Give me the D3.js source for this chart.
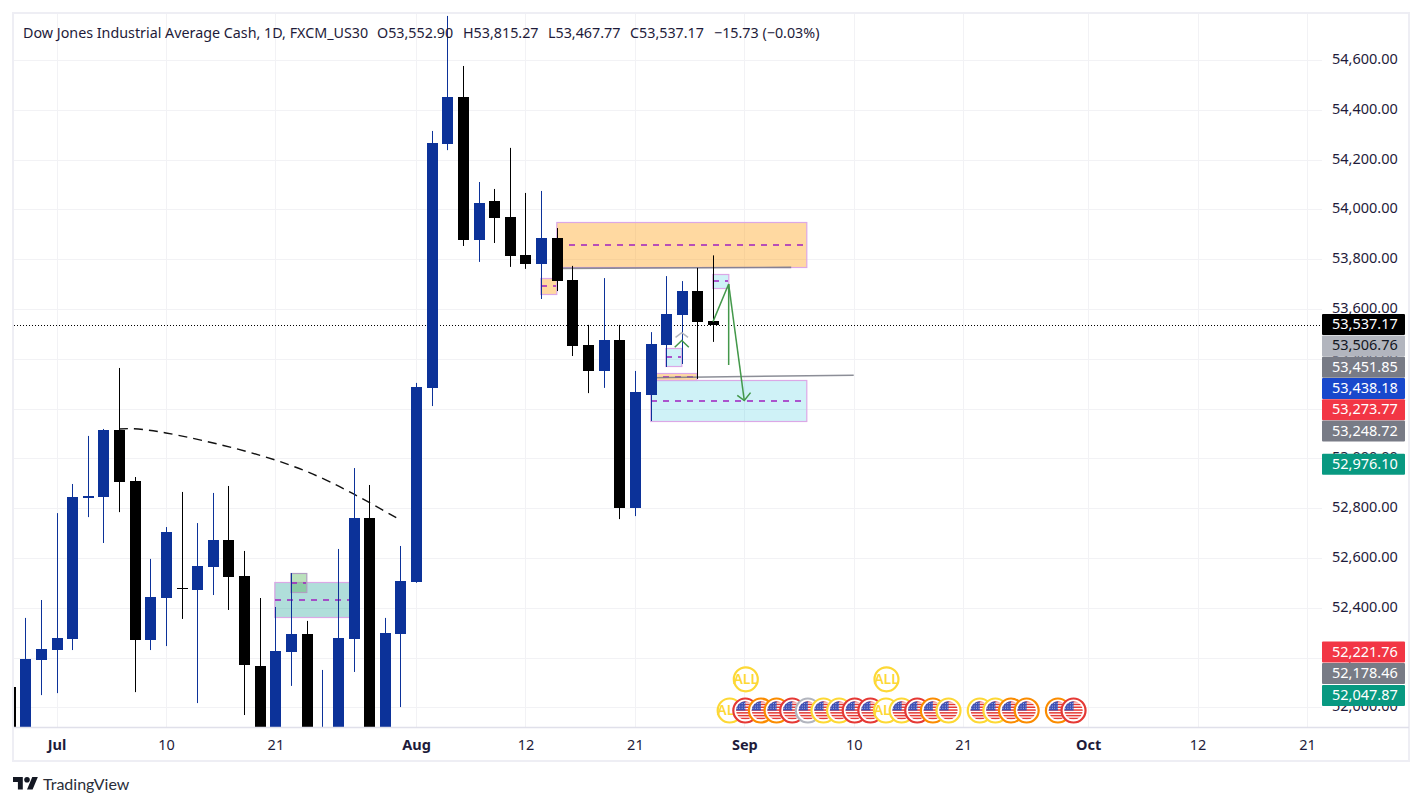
<!DOCTYPE html>
<html><head><meta charset="utf-8">
<script src="https://cdn.jsdelivr.net/npm/d3@7"></script>
<style>
html,body{margin:0;padding:0;background:#fff}
svg{display:block}
text{font-family:"Noto Sans",sans-serif;font-size:14.3px}
</style></head><body>
<svg id="c" width="1422" height="806"></svg>
<script>
const firstBar=-1;
const opens=[52081,51800,52190,52230,52274,52841,52845,53114,52909,52270,52439,52479,52471,52564,52672,52527,52166,51800,52222,52294,51700,51800,52274,52760,51850,52294,52503,53283,54263,54451,53877,54034,53969,53817,53781,53885,53716,53455,53351,53475,52801,53254,53455,53576,53672,53552.9];
const highs=[52150,52359,52431,52780,52897,53090,53118,53363,52925,52596,52724,52865,52740,52861,52889,52628,52439,52403,52539,52347,52150,52636,52961,52893,52359,52648,53303,54315,54777,54576,54110,54082,54247,54066,54074,53925,53773,53536,53724,53536,53351,53507,53732,53712,53765,53815.27];
const lows=[51800,51700,52049,52057,52230,52764,52660,52784,52061,52230,52246,52355,52017,52451,52391,51969,51700,51700,52086,51700,51650,51700,52142,51750,51800,52001,52500,53210,54238,53853,53789,53865,53769,53761,53640,53672,53411,53262,53283,52756,52768,53150,53367,53379,53319,53467.77];
const closes=[51900,52194,52234,52278,52845,52849,53114,52905,52270,52443,52704,52475,52568,52672,52523,52170,51750,52226,52294,51800,51880,52278,52760,51850,52298,52507,53287,54267,54451,53877,54026,53965,53813,53781,53885,53712,53451,53351,53475,52801,53266,53459,53580,53672,53548,53537.17];
const priceTicks=[52000,52200,52400,52600,52800,53000,53200,53400,53600,53800,54000,54200,54400,54600];
const timeBars=[2,9,16,25,32,39,46,53,60,68,75,82];
const timeLabels=["Jul","10","21","Aug","12","21","Sep","10","21","Oct","12","21"];
const boldLabels=["Jul","Aug","Sep","Oct"];
// zones: [barStart, barEnd, priceTop, priceBottom, kind]
const zones=[
 [16,21,52502,52361,"teal"],[17,18,52538,52464,"green"],
 [33,34,53723,53659,"orange"],[34,50,53948,53767,"orange"],
 [44,45,53739,53683,"cyan"],[41,42,53442,53370,"cyan"],
 [40,43,53342,53315,"orange"],[40,50,53313,53149,"cyan"]];
const trendBars=[34,49,40,53];
const trendPrices=[53763,53767,53324,53334];
const curveBars=[6,9,16,21,24];
const curvePrices=[53118,53102,52993,52857,52752];
const arrowA=[[44,53549],[45,53700],[45,53375]];
const arrowB=[[45,53700],[46,53232]];
const arrowHead=[[45.55,53253],[46,53232],[46.4,53264]];
const chevronGreen=[[41.55,53446],[42,53473],[42.45,53446]];
const chevronGray=[[41.6,53486],[42,53505],[42.4,53486]];
const lastPrice=53537.17;
const labelValues=[53537.17,53506.76,53451.85,53438.18,53273.77,53248.72,52976.10,52221.76,52178.46,52047.87];
const labelKinds=["last","light","gray","blue","red","gray","green","red","gray","green"];
const eventBars=[45,46,47,48,49,50,51,52,53,54,55,56,57,58,59,61,62,63,64,66,67];
const eventRings=["y","r","o","o","r","g","y","y","r","r","y","y","r","o","y","y","y","o","o","o","r"];
const eventAll=[45,55];
const upperAll=[46,55];

const L=14,R=1322,T=14,B=727;
const x=d3.scaleLinear().domain([0,82]).range([25.3,1307]);
const y=d3.scaleLinear().domain([52000,54600]).range([707.3,60]);
const svg=d3.select("#c");
const px=v=>Math.round(x(v));
const defs=svg.append("defs");
defs.append("clipPath").attr("id","plot").append("rect").attr("x",L).attr("y",T).attr("width",R-L).attr("height",B-T);

// frame
const frame="#eeeef4";
svg.append("rect").attr("x",13).attr("y",13).attr("width",1396).attr("height",748).attr("fill","#fff").attr("stroke",frame).attr("stroke-width",2);

const plot=svg.append("g").attr("clip-path","url(#plot)");
// grid
plot.append("g").selectAll("line").data(priceTicks).join("line")
 .attr("x1",L).attr("x2",R).attr("y1",d=>Math.round(y(d))+.5).attr("y2",d=>Math.round(y(d))+.5).attr("stroke","#f2f2f5");
plot.append("g").selectAll("line").data(timeBars).join("line")
 .attr("y1",T).attr("y2",B).attr("x1",d=>px(d)+.5).attr("x2",d=>px(d)+.5).attr("stroke","#f2f2f5");

// zones
const zoneFill={teal:"rgba(0,150,136,.31)",green:"rgba(76,175,80,.38)",orange:"rgba(255,152,0,.37)",cyan:"rgba(0,188,212,.19)"};
const zg=plot.append("g");
zones.forEach(z=>{
 const [a,b,t,m]=z; const k=z[4];
 const g=zg.append("g");
 g.append("rect").attr("x",px(a)-.2).attr("width",px(b)-px(a)).attr("y",Math.round(y(t))+.5).attr("height",Math.round(y(m))-Math.round(y(t)))
  .attr("fill",zoneFill[k]).attr("stroke",k=="green"?"#b09fc0":"#dba8e6").attr("stroke-width",1.2);
 g.append("line").attr("x1",px(a)).attr("x2",px(b)-1).attr("y1",Math.round(y((t+m)/2))).attr("y2",Math.round(y((t+m)/2)))
  .attr("stroke","#a020c0").attr("stroke-width",1.3).attr("stroke-dasharray","6 6");
});

// dotted last line
plot.append("line").attr("x1",L).attr("x2",R).attr("y1",Math.round(y(lastPrice))+.5).attr("y2",Math.round(y(lastPrice))+.5)
 .attr("stroke","#000").attr("stroke-dasharray","1 2");

// trend lines
for(let i=0;i<2;i++){
 plot.append("line").attr("x1",x(trendBars[i*2])).attr("x2",x(trendBars[i*2+1])).attr("y1",y(trendPrices[i*2])).attr("y2",y(trendPrices[i*2+1]))
  .attr("stroke","#787b86").attr("stroke-width",1.6).attr("opacity",.85);
}
// curve
const curvePts=curveBars.map((b,i)=>[x(b),y(curvePrices[i])]);
plot.append("path").attr("d",d3.line().curve(d3.curveNatural)(curvePts)).attr("fill","none").attr("stroke","#111").attr("stroke-width",1.4).attr("stroke-dasharray","9 6");

// candles
const bars=opens.map((o,i)=>({i:i+firstBar,o,h:highs[i],l:lows[i],c:closes[i]}));
const col=d=>d.c>=d.o?"#0c3299":"#000";
const cg=plot.append("g");
cg.selectAll("rect.w").data(bars).join("rect").attr("class","w")
 .attr("x",d=>px(d.i)).attr("width",1).attr("y",d=>y(d.h)).attr("height",d=>y(d.l)-y(d.h)).attr("fill",col);
cg.selectAll("rect.b").data(bars).join("rect").attr("class","b")
 .attr("x",d=>px(d.i)-5).attr("width",11)
 .attr("y",d=>Math.round(y(Math.max(d.o,d.c))))
 .attr("height",d=>Math.max(1,Math.round(y(Math.min(d.o,d.c)))-Math.round(y(Math.max(d.o,d.c)))))
 .attr("fill",col);

// arrows
const ln=d3.line().x(d=>x(d[0])).y(d=>y(d[1]));
[arrowA,arrowB,arrowHead,chevronGreen].forEach(a=>plot.append("path").attr("d",ln(a)).attr("fill","none").attr("stroke","#43984a").attr("stroke-width",1.5));
plot.append("path").attr("d",ln(chevronGray)).attr("fill","none").attr("stroke","#b2b5be").attr("stroke-width",1.5);

// axis lines
svg.append("line").attr("x1",L).attr("x2",1409).attr("y1",727.5).attr("y2",727.5).attr("stroke","#e0e0ea").attr("stroke-width",1.4);

// axes
const tx="#1e1b3a";
const xAxis=d3.axisBottom(x).tickValues(timeBars).tickSize(0).tickPadding(0).tickFormat((d,i)=>timeLabels[i]);
const xg=svg.append("g").attr("transform","translate(0,727)").call(xAxis);
xg.select(".domain").remove();
xg.selectAll("text").attr("y",18).attr("dy",".35em").attr("fill",tx).style("font-family",'"Noto Sans",sans-serif').style("font-size","14.5px")
 .style("font-weight",(d,i)=>boldLabels.includes(timeLabels[i])?700:400);

const yAxis=d3.axisRight(y).tickValues(priceTicks).tickSize(0).tickPadding(0).tickFormat(d3.format(",.2f"));
const yg=svg.append("g").attr("transform","translate(1332,-1.2)").call(yAxis);
yg.select(".domain").remove();
yg.selectAll("text").attr("x",0).attr("fill",tx).style("font-family",'"Noto Sans",sans-serif').style("font-size","14.5px");

// events
const ringCol={y:"#fdd835",r:"#e53935",o:"#fb8c00",g:"#b2b5be"};
const evg=svg.append("g");
const evY=710.5, evUp=679.3, evR=12;
defs.append("clipPath").attr("id","flag").append("circle").attr("r",9.2);
const stripes=d3.range(7);
function flag(g){
 const f=g.append("g").attr("clip-path","url(#flag)");
 f.append("rect").attr("x",-10).attr("y",-10).attr("width",20).attr("height",20).attr("fill","#fff");
 f.selectAll("rect.s").data(stripes).join("rect").attr("class","s").attr("x",-10).attr("width",20).attr("y",d=>-9.6+d*2.8).attr("height",1.5).attr("fill","#e53935");
 f.append("rect").attr("x",-10).attr("y",-10).attr("width",10).attr("height",10).attr("fill","#3f51b5");
 f.selectAll("circle.d").data(d3.range(12)).join("circle").attr("class","d").attr("r",.5).attr("fill","#c5cae9")
  .attr("cx",d=>-8+(d%4)*2.4).attr("cy",d=>-7+Math.floor(d/4)*2.4);
}
eventBars.forEach((b,i)=>{
 const g=evg.append("g").attr("transform",`translate(${x(b)+1},${evY})`);
 g.append("circle").attr("r",evR).attr("fill","#fff").attr("stroke",ringCol[eventRings[i]]).attr("stroke-width",2.2);
 if(eventAll.includes(b)){
  g.append("text").attr("text-anchor","middle").attr("dy",".35em").attr("fill","#fdd835").style("font-size","14px").style("font-weight",600).text("ALL");
 } else flag(g);
});
upperAll.forEach(b=>{
 const g=evg.append("g").attr("transform",`translate(${x(b)+1.5},${evUp})`);
 g.append("circle").attr("r",evR).attr("fill","#fff").attr("stroke","#fdd835").attr("stroke-width",2.2);
 g.append("text").attr("text-anchor","middle").attr("dy",".35em").attr("fill","#fdd835").style("font-size","14px").style("font-weight",600).text("ALL");
});

// price labels with downward stacking
const labelStyle={last:["#000","#fff"],light:["#b2b5be","#131722"],gray:["#787b86","#fff"],blue:["#1848cc","#fff"],red:["#f23645","#fff"],green:["#089981","#fff"]};
const step=21.3;
let prevY=-1e9;
const lg=svg.append("g");
labelValues.forEach((v,i)=>{
 let c=y(v); if(c<prevY+step) c=prevY+step; prevY=c;
 const s=labelStyle[labelKinds[i]];
 lg.append("rect").attr("x",1322).attr("y",c-10.5).attr("width",83).attr("height",21).attr("rx",1).attr("fill",s[0]);
 lg.append("text").attr("x",1332).attr("y",c-.5).attr("dy",".35em").attr("fill",s[1]).style("font-size","14.5px").text(d3.format(",.2f")(v));
});

// header
const head=[["Dow Jones Industrial Average Cash, 1D, FXCM_US30",23],["O53,552.90",377],["H53,815.27",463],["L53,467.77",548],["C53,537.17",630],["−15.73 (−0.03%)",714]];
svg.append("g").selectAll("text").data(head).join("text").attr("x",d=>d[1]).attr("y",32.5).attr("dy",".35em").attr("fill",tx).text(d=>d[0]);

// footer
const logo=svg.append("g").attr("transform","translate(13,774.2) scale(.7)").attr("fill","#131722");
logo.append("path").attr("d","M14 22H7V11H0V4h14v18zM28 22h-8l7.5-18h8L28 22z");
logo.append("circle").attr("cx",20).attr("cy",8).attr("r",4);
svg.append("text").attr("x",43).attr("y",784).attr("dy",".35em").attr("fill","#2a2e39").style("font-family","Lato").style("font-size","16px").text("TradingView");
</script>
</body></html>
